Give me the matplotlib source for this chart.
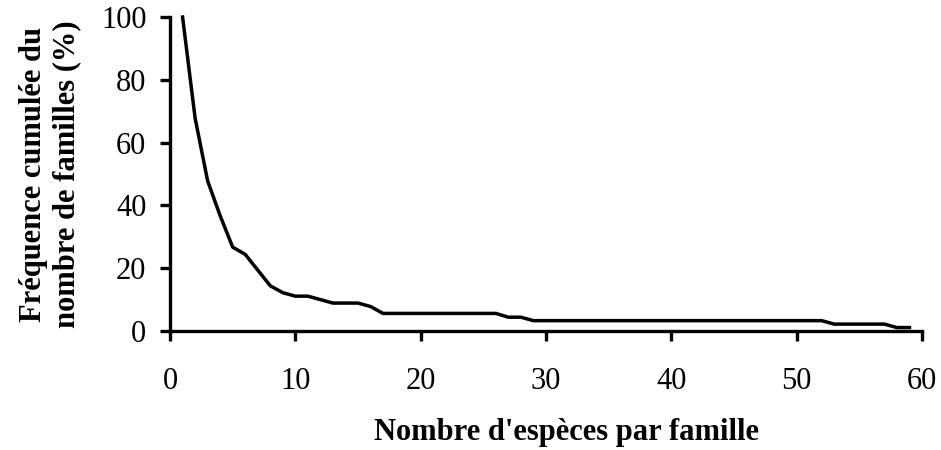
import matplotlib.pyplot as plt

plt.rcParams['font.family'] = ['Liberation Serif', 'DejaVu Serif']

# Nombre d'espèces par famille et fréquence cumulée (%)
nb_especes = list(range(1, 60))
freq_cumulee = [100, 67.8, 47.8, 36.7, 26.7, 24.4, 19.4, 14.4, 12.2, 11.1,
                11.1, 10.0, 8.9, 8.9, 8.9, 7.8, 5.6, 5.6, 5.6, 5.6,
                5.6, 5.6, 5.6, 5.6, 5.6, 5.6, 4.4, 4.4, 3.3, 3.3,
                3.3, 3.3, 3.3, 3.3, 3.3, 3.3, 3.3, 3.3, 3.3, 3.3,
                3.3, 3.3, 3.3, 3.3, 3.3, 3.3, 3.3, 3.3, 3.3, 3.3,
                3.3, 3.3, 2.2, 2.2, 2.2, 2.2, 2.2, 1.1, 1.1]
x_ticks = [0, 10, 20, 30, 40, 50, 60]
y_ticks = [0, 20, 40, 60, 80, 100]

fig = plt.figure(figsize=(9.41, 4.5), dpi=100)
ax = fig.add_axes([0.1807, 0.2644, 0.7991, 0.6978])

ax.plot(nb_especes, freq_cumulee, color='black', linewidth=2.5, clip_on=False)

ax.set_xlim(0, 60)
ax.set_ylim(0, 100)
ax.set_xticks(x_ticks)
ax.set_yticks(y_ticks)

for side in ['top', 'right']:
    ax.spines[side].set_visible(False)
for side in ['left', 'bottom']:
    ax.spines[side].set_linewidth(2.4)

ax.tick_params(axis='x', direction='out', length=7, width=2.4, labelsize=22, pad=19)
ax.tick_params(axis='y', direction='out', length=7, width=2.4, labelsize=22, pad=10)

ax.set_xlabel("Nombre d'espèces par famille", fontsize=22, fontweight='bold', labelpad=16)
ax.xaxis.label.set_x(0.527)  # the title sits a bit right of the axis centre
ax.set_ylabel("Fréquence cumulée du\nnombre de familles (%)", fontsize=22,
              fontweight='bold', labelpad=14, linespacing=1.2)

fig.savefig('out.png', dpi=100)
